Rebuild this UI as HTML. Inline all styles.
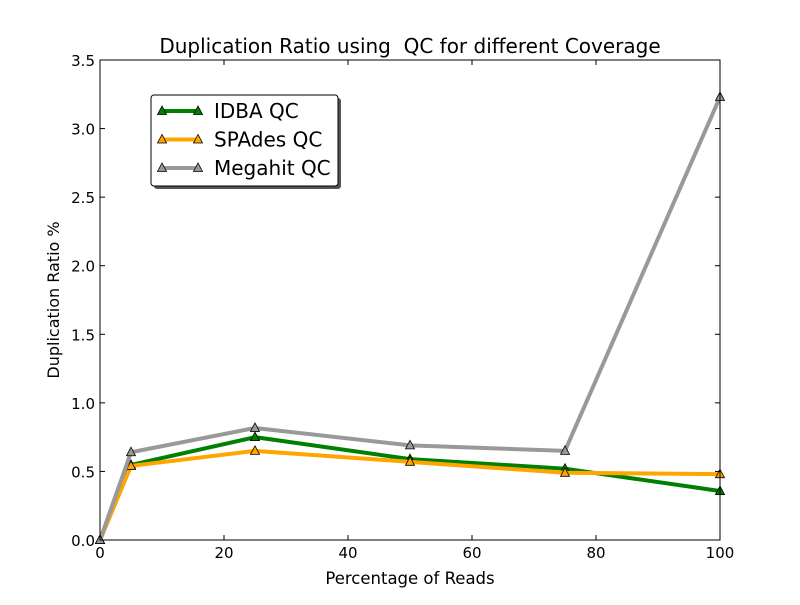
<!DOCTYPE html>
<html><head><meta charset="utf-8"><style>
body{margin:0;background:#fff;}
svg text{font-family:"DejaVu Sans","Liberation Sans",sans-serif;}
</style></head><body>
<svg id="chart" width="800" height="600">
<rect width="800" height="600" fill="#fff"/>
<g id="marks"></g>
<rect x="100" y="60" width="620" height="480" fill="none" stroke="#000" stroke-width="1"/>
<g id="ticks"></g>
<text x="410" y="53" font-size="20" text-anchor="middle" xml:space="preserve" style="white-space:pre">Duplication Ratio using  QC for different Coverage</text>
<text x="410" y="584" font-size="16.5" text-anchor="middle">Percentage of Reads</text>
<text x="59" y="300" font-size="16" text-anchor="middle" transform="rotate(-90 59 300)">Duplication Ratio %</text>
<g>
<rect x="154" y="98" width="187" height="91" fill="#555" rx="3"/>
<rect x="151" y="95" width="187" height="91" fill="#fff" stroke="#000" stroke-width="1" rx="3"/>
<g id="legend-entries"></g>
</g>
</svg>
<script>
const xValues=[0,5,25,50,75,100];
const seriesNames=["IDBA QC","SPAdes QC","Megahit QC"];
const idbaValues=[0,0.547,0.75,0.59,0.52,0.357];
const spadesValues=[0,0.54,0.65,0.57,0.49,0.48];
const megahitValues=[0,0.64,0.817,0.69,0.65,3.23];
const xTicks=[0,20,40,60,80,100];
const yTicks=[0,0.5,1.0,1.5,2.0,2.5,3.0,3.5];
const colors=["#008000","#ffa500","#999999"];
const NS="http://www.w3.org/2000/svg";
function xs(v){return 100+v/100*620;}
function ys(v){return 540-v/3.5*480;}
function mk(t,a,p){const e=document.createElementNS(NS,t);for(const k in a)e.setAttribute(k,a[k]);p.appendChild(e);return e;}
const marks=document.getElementById('marks');
const all=[idbaValues,spadesValues,megahitValues];
const keys=["idba","spades","megahit"];
function tri(x,y){return `${x},${y-5} ${x-4.5},${y+3.5} ${x+4.5},${y+3.5}`;}
all.forEach((vals,i)=>{
  const pts=vals.map((v,j)=>xs(xValues[j])+","+ys(v)).join(" ");
  const l=mk('polyline',{points:pts,fill:'none',stroke:colors[i],'stroke-width':4,'stroke-linejoin':'round'},marks);
  
  
  vals.forEach((v,j)=>{
    const m=mk('polygon',{points:tri(xs(xValues[j]),ys(v)),fill:colors[i],stroke:'#000','stroke-width':0.8},marks);
    
    
  });
});
const ticks=document.getElementById('ticks');
xTicks.forEach(t=>{
  const x=xs(t);
  mk('line',{x1:x,x2:x,y1:540,y2:535,stroke:'#000'},ticks);
  mk('line',{x1:x,x2:x,y1:60,y2:65,stroke:'#000'},ticks);
  const tx=mk('text',{x:x,y:558,'font-size':15,'text-anchor':'middle'},ticks);
  tx.textContent=t;
  
  
});
yTicks.forEach(t=>{
  const y=ys(t);
  mk('line',{x1:100,x2:105,y1:y,y2:y,stroke:'#000'},ticks);
  mk('line',{x1:715,x2:720,y1:y,y2:y,stroke:'#000'},ticks);
  const tx=mk('text',{x:95,y:y+6,'font-size':15,'text-anchor':'end'},ticks);
  tx.textContent=t.toFixed(1);
  
  
});
const lg=document.getElementById('legend-entries');
seriesNames.forEach((n,i)=>{
  const y=111+i*28.5;
  const g=mk('g',{},lg);
  
  
  mk('line',{x1:160,x2:200,y1:y,y2:y,stroke:colors[i],'stroke-width':4},g);
  mk('polygon',{points:tri(162,y),fill:colors[i],stroke:'#000','stroke-width':0.8},g);
  mk('polygon',{points:tri(198,y),fill:colors[i],stroke:'#000','stroke-width':0.8},g);
  const t=mk('text',{x:214,y:y+7,'font-size':20},g);
  t.textContent=n;
});
</script>
</body></html>
